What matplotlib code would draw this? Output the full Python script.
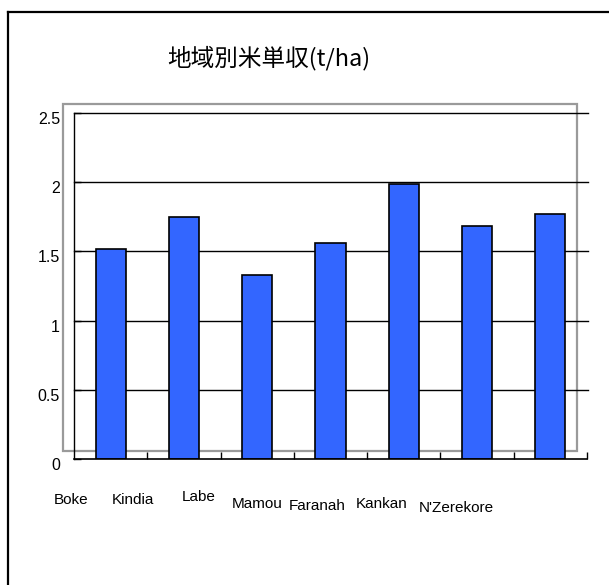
import matplotlib
matplotlib.use("Agg")
import matplotlib.pyplot as plt
from matplotlib.lines import Line2D
from matplotlib.patches import Rectangle
from matplotlib.transforms import ScaledTranslation, blended_transform_factory

# ---- data ----
regions = ["Boke", "Kindia", "Labe", "Mamou", "Faranah", "Kankan", "N'Zerekore"]
yields = [1.52, 1.75, 1.33, 1.56, 1.99, 1.68, 1.77]
y_ticks = [0, 0.5, 1, 1.5, 2, 2.5]
y_tick_labels = ["0", "0.5", "1", "1.5", "2", "2.5"]
title = "地域別米単収(t/ha)"

# ---- layout (label placement quirks of the original) ----
label_dx = [-0.54, -0.69, -0.80, -1.00, -1.18, -1.30, -1.29]   # in category units
label_baseline_px = [503.5, 503.5, 501, 508.5, 510, 508.5, 511.5]

LAT = "Liberation Sans"
lab_fs, tick_fs = 11, 11.5

W, H = 609, 585
fig = plt.figure(figsize=(W / 100, H / 100), dpi=100)
fig.patch.set_facecolor("white")

ax = fig.add_axes([74 / W, 1 - 459 / H, 513 / W, 346 / H])
ax.set_facecolor("none")

x = list(range(len(regions)))
ax.bar(x, yields, width=0.41, color="#3366FF", edgecolor="black", linewidth=1.2, zorder=3)

ax.set_xlim(-0.5, len(regions) - 0.5)
ax.set_ylim(0, 2.5)

# gridlines
for v in y_ticks[1:]:
    ax.axhline(v, color="black", lw=1.0, zorder=1, xmax=1.002, clip_on=False)

# back wall (gray frame offset behind plot)
wall = Rectangle((-11 / 513, 8 / 346), (577 - 63) / 513, (451 - 104) / 346,
                 transform=ax.transAxes, fill=False, edgecolor="#9a9a9a",
                 lw=1.6, zorder=0, clip_on=False)
ax.add_patch(wall)

# spines
for s in ["top", "right"]:
    ax.spines[s].set_visible(False)
ax.spines["left"].set_color("black")
ax.spines["bottom"].set_color("black")
ax.spines["left"].set_linewidth(1.0)
ax.spines["bottom"].set_linewidth(1.2)
ax.spines["bottom"].set_zorder(4)

# y ticks
ax.set_yticks(y_ticks)
ax.set_yticklabels(y_tick_labels, fontsize=tick_fs, family=LAT)
ax.tick_params(axis="y", direction="in", length=5, width=1, pad=10, color="black")
for lab in ax.get_yticklabels():
    lab.set_transform(lab.get_transform() + ScaledTranslation(0, -5 / 100, fig.dpi_scale_trans))

# x ticks at category boundaries, labels placed separately
ax.set_xticks([i + 0.5 for i in x])
ax.set_xticklabels([])
ax.tick_params(axis="x", direction="in", length=5, width=1, color="black")

tr = blended_transform_factory(ax.transData, fig.transFigure)
for i, name in enumerate(regions):
    ax.text(i + label_dx[i], 1 - label_baseline_px[i] / H, name, transform=tr,
            ha="center", va="baseline", fontsize=lab_fs, family=LAT,
            clip_on=False)

# title
fig.text(268.5 / W, 1 - 58 / H, title, ha="center", va="center", fontsize=17,
         family=["Noto Sans CJK JP", "DejaVu Sans"])

# outer frame (top and left edges visible)
fig.add_artist(Line2D([8 / W, 1.0], [1 - 12 / H, 1 - 12 / H], transform=fig.transFigure,
                      color="black", lw=1.6))
fig.add_artist(Line2D([8 / W, 8 / W], [1 - 12 / H, 0.0], transform=fig.transFigure,
                      color="black", lw=1.6))

fig.savefig("out.png", dpi=100)
